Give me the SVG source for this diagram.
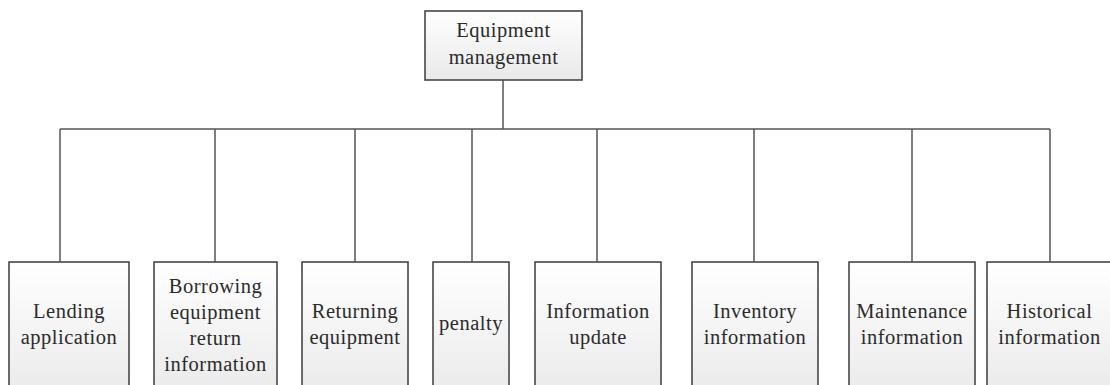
<svg xmlns="http://www.w3.org/2000/svg" width="1110" height="385" viewBox="0 0 1110 385">
  <style>
    .box { fill: url(#boxFill); stroke: #474747; stroke-width: 1.6; }
    .lbl { font-family: "Liberation Serif", "Times New Roman", serif; font-size: 20.5px; letter-spacing: 0.5px; fill: #2b2b2b; text-anchor: middle; }
    .wire { fill: none; stroke: #555; stroke-width: 1.5; }
  </style>
  <defs>
    <linearGradient id="boxFill" x1="0" y1="0" x2="0" y2="1">
      <stop offset="0" stop-color="#ffffff"/>
      <stop offset="1" stop-color="#e9e9e9"/>
    </linearGradient>
  </defs>
  <rect width="1110" height="385" fill="#fff"/>

  <!-- connectors: trunk, bus and drops -->
  <g id="connectors" class="wire">
    <path d="M503 80 V129"/>
    <path d="M60 129 H1050"/>
    <path d="M60 129 V262"/>
    <path d="M215 129 V262"/>
    <path d="M355 129 V262"/>
    <path d="M472 129 V262"/>
    <path d="M597 129 V262"/>
    <path d="M754 129 V262"/>
    <path d="M912 129 V262"/>
    <path d="M1050 129 V262"/>
  </g>

  <g id="equipment-management">
    <rect class="box" x="425" y="11" width="157" height="69"/>
    <text class="lbl" x="503.5" y="37">Equipment</text>
    <text class="lbl" x="503.5" y="64">management</text>
  </g>

  <g id="lending-application">
    <rect class="box" x="9" y="262" width="120" height="140"/>
    <text class="lbl" x="69" y="318">Lending</text>
    <text class="lbl" x="69" y="344">application</text>
  </g>

  <g id="borrowing-return-info">
    <rect class="box" x="154" y="262" width="123" height="140"/>
    <text class="lbl" x="215.5" y="293">Borrowing</text>
    <text class="lbl" x="215.5" y="319">equipment</text>
    <text class="lbl" x="215.5" y="345">return</text>
    <text class="lbl" x="215.5" y="371">information</text>
  </g>

  <g id="returning-equipment">
    <rect class="box" x="302" y="262" width="106" height="140"/>
    <text class="lbl" x="355" y="318">Returning</text>
    <text class="lbl" x="355" y="344">equipment</text>
  </g>

  <g id="penalty">
    <rect class="box" x="433" y="262" width="76" height="140"/>
    <text class="lbl" x="471" y="330">penalty</text>
  </g>

  <g id="information-update">
    <rect class="box" x="535" y="262" width="126" height="140"/>
    <text class="lbl" x="598" y="318">Information</text>
    <text class="lbl" x="598" y="344">update</text>
  </g>

  <g id="inventory-information">
    <rect class="box" x="692" y="262" width="126" height="140"/>
    <text class="lbl" x="755" y="318">Inventory</text>
    <text class="lbl" x="755" y="344">information</text>
  </g>

  <g id="maintenance-information">
    <rect class="box" x="849" y="262" width="126" height="140"/>
    <text class="lbl" x="912" y="318">Maintenance</text>
    <text class="lbl" x="912" y="344">information</text>
  </g>

  <g id="historical-information">
    <rect class="box" x="987" y="262" width="126" height="140"/>
    <text class="lbl" x="1049.5" y="318">Historical</text>
    <text class="lbl" x="1049.5" y="344">information</text>
  </g>
</svg>
